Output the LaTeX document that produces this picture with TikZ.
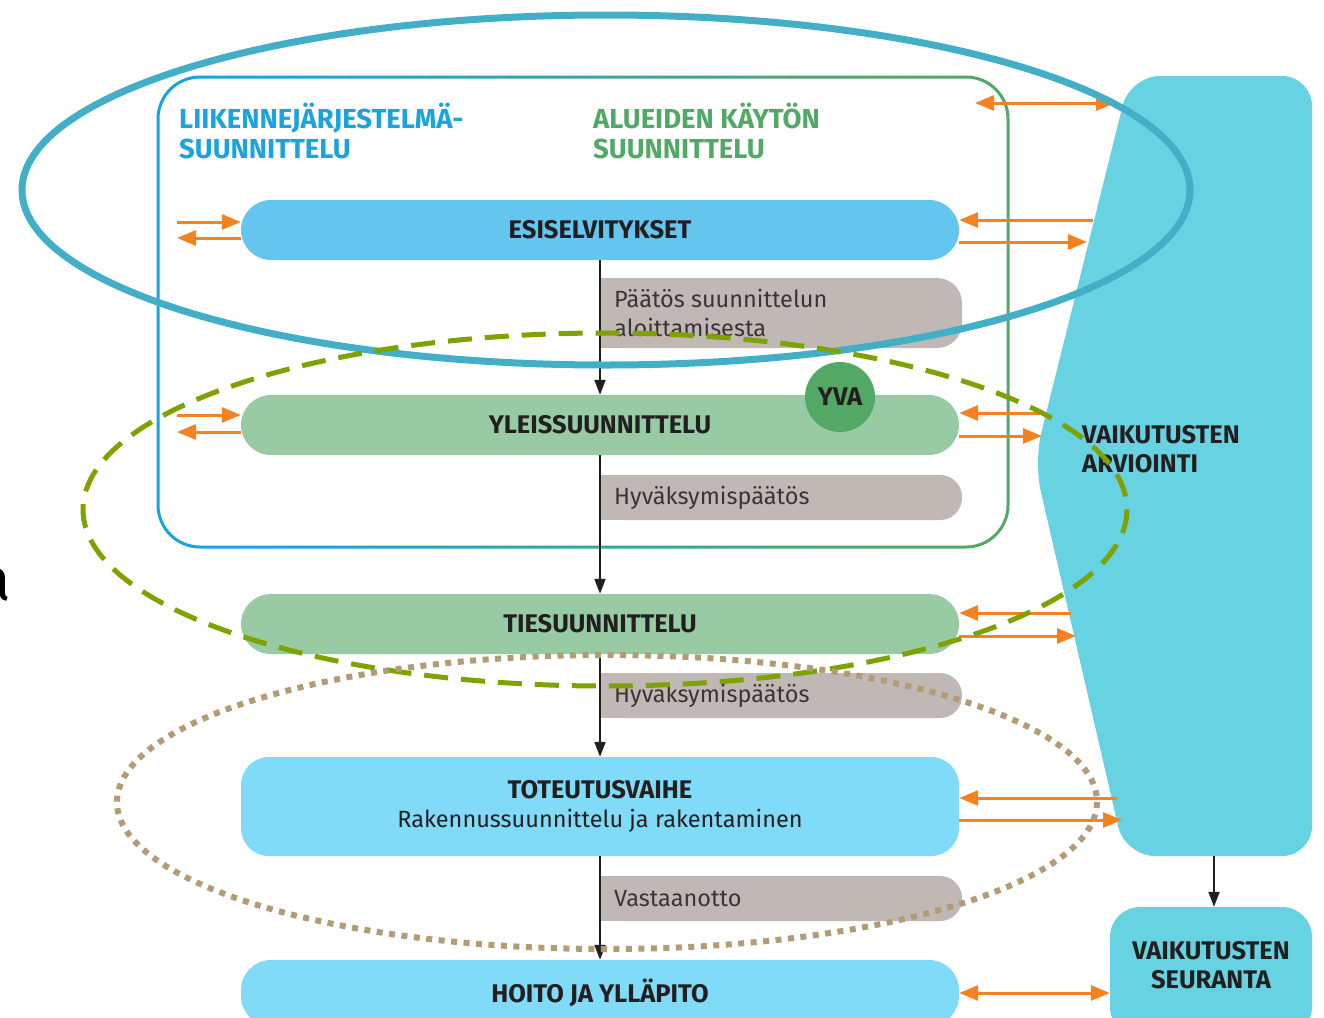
\documentclass[tikz,border=0pt]{standalone}
\usepackage{fontspec}
\setmainfont{Fira Sans}
\usetikzlibrary{arrows.meta,calc}
\definecolor{txt}{HTML}{231F20}
\definecolor{txtgray}{HTML}{3A3534}
\definecolor{esiblue}{HTML}{64C5EE}
\definecolor{lgreen}{HTML}{98CBA4}
\definecolor{yvagreen}{HTML}{53A866}
\definecolor{grayfill}{HTML}{BFB8B5}
\definecolor{cyanfill}{HTML}{80DBF8}
\definecolor{vaikfill}{HTML}{67D2E1}
\definecolor{tealell}{HTML}{42AFC6}
\definecolor{oliveell}{HTML}{7EA200}
\definecolor{brownell}{HTML}{B19C75}
\definecolor{orangearr}{HTML}{F58220}
\definecolor{titleblue}{HTML}{1BA3DD}
\definecolor{titlegreen}{HTML}{52A866}
\begin{document}
\begin{tikzpicture}[x=1pt,y=-1pt,
  mainbox/.style={rounded corners=30pt, minimum width=718pt, minimum height=60pt, inner sep=0pt,
    font=\fontsize{25.5}{29}\selectfont\bfseries, text=txt, align=center},
  graytext/.style={anchor=west, align=left, inner sep=0pt, font=\fontsize{23.5}{29}\selectfont, text=txtgray},
  headtext/.style={anchor=west, align=left, inner sep=0pt, font=\fontsize{27.5}{30}\selectfont\bfseries},
  oarrow/.style={draw=orangearr, line width=3pt, -{Triangle[length=19pt,width=15pt]}},
  oarrowboth/.style={draw=orangearr, line width=3pt, {Triangle[length=19pt,width=15pt]}-{Triangle[length=19pt,width=15pt]}},
  barrow/.style={draw=txt, line width=2pt, -{Triangle[length=15pt,width=11pt]}},
  frag/.style={inner sep=0pt, anchor=base east, text=black}]
\useasboundingbox (0,0) rectangle (1324,1017);

% fragments at the left edge
\node[frag, font=\fontsize{44}{44}\selectfont] (fraga) at (3,466) {a};
\node[frag, font=\fontsize{60}{60}\selectfont] (fragb) at (11,600) {a};

% outer frame with blue-to-green gradient
\foreach \i in {0,...,43} {
  \pgfmathsetmacro\xa{150+\i*20}
  \pgfmathtruncatemacro\p{max(0,min(100,(\xa-260)/6.2))}
  \begin{scope}
    \clip (\xa,60) rectangle (\xa+20.5,565);
    \draw[line width=3pt, draw=titlegreen!\p!titleblue, rounded corners=42pt] (158,77) rectangle (1008,547);
  \end{scope}
}

% headings
\node[headtext, text=titleblue] (ltitle) at (179,131) {LIIKENNEJÄRJESTELMÄ-\\SUUNNITTELU};
\node[headtext, text=titlegreen] (atitle) at (593,131) {ALUEIDEN KÄYTÖN\\SUUNNITTELU};

% gray decision boxes (shapes)
\fill[grayfill, rounded corners=25pt] (600,278) rectangle (962,348);
\fill[grayfill] (600,278) rectangle (640,348);
\fill[grayfill, rounded corners=22pt] (600,475) rectangle (962,520);
\fill[grayfill] (600,475) rectangle (640,520);
\fill[grayfill, rounded corners=22pt] (600,673) rectangle (962,718);
\fill[grayfill] (600,673) rectangle (640,718);
\fill[grayfill, rounded corners=22pt] (600,876) rectangle (962,921);
\fill[grayfill] (600,876) rectangle (640,921);
\node[graytext] (g1) at (614,313) {Päätös suunnittelun\\aloittamisesta};
\node[graytext] (g2) at (614,497.5) {Hyväksymispäätös};
\node[graytext] (g3) at (614,695.5) {Hyväksymispäätös};
\node[graytext] (g4) at (614,898.5) {Vastaanotto};

% main boxes
\node[mainbox, fill=esiblue] (esi) at (600,230) {ESISELVITYKSET};
\node[mainbox, fill=lgreen] (yle) at (600,425) {YLEISSUUNNITTELU};
\node[mainbox, fill=lgreen] (ties) at (600,624) {TIESUUNNITTELU};
\node[mainbox, fill=cyanfill, minimum height=99pt, rounded corners=28pt] (tot) at (600,806.5)
  {TOTEUTUSVAIHE\\{\mdseries\fontsize{23.5}{29}\selectfont Rakennussuunnittelu ja rakentaminen}};
\node[mainbox, fill=cyanfill, minimum height=66pt] (hoito) at (600,993) {HOITO JA YLLÄPITO};

% YVA
\node[circle, fill=yvagreen, minimum size=70pt, inner sep=0pt, font=\fontsize{25.5}{29}\selectfont\bfseries, text=txt] (yva) at (840,397) {YVA};

% impact assessment shape
\fill[vaikfill, rounded corners=30pt] (1130,76) -- (1312,76) -- (1312,856) -- (1125,856) -- (1034,462) -- cycle;
\node[anchor=west, align=left, inner sep=0pt, font=\fontsize{25.5}{29}\selectfont\bfseries, text=txt] (arv) at (1082,449.5) {VAIKUTUSTEN\\ARVIOINTI};
\coordinate (arvbot) at (1214,856);
\node[fill=vaikfill, rounded corners=30pt, minimum width=202pt, minimum height=130pt, inner sep=0pt] (seur) at (1211,972) {};
\node[align=center, inner sep=0pt, font=\fontsize{25.5}{29}\selectfont\bfseries, text=txt] (seurtxt) at (1211,965.5) {VAIKUTUSTEN\\SEURANTA};
\draw[barrow] (arvbot) -- (arvbot |- seur.north);

% black process arrows
\draw[barrow] (esi.south) -- (yle.north);
\draw[barrow] (yle.south) -- (ties.north);
\draw[barrow] (ties.south) -- (tot.north);
\draw[barrow] (tot.south) -- (hoito.north);

% orange arrows
\coordinate (t1) at (975,103);
\coordinate (t2) at (1115,103);
\draw[oarrowboth] (t1) -- (t2);

\coordinate (l1) at (177,222);
\coordinate (l2) at (177,238);
\draw[oarrow] (l1) -- (l1 -| esi.west);
\draw[oarrow] (l2 -| esi.west) -- (l2);
\coordinate (l3) at (177,415);
\coordinate (l4) at (177,432);
\draw[oarrow] (l3) -- (l3 -| yle.west);
\draw[oarrow] (l4 -| yle.west) -- (l4);

\coordinate (r1) at (1093,220);
\coordinate (r2) at (1087,242);
\draw[oarrow] (r1) -- (r1 -| esi.east);
\draw[oarrow] (r2 -| esi.east) -- (r2);
\coordinate (r3) at (1043,413);
\coordinate (r4) at (1042,436);
\draw[oarrow] (r3) -- (r3 -| yle.east);
\draw[oarrow] (r4 -| yle.east) -- (r4);
\coordinate (r5) at (1071,613);
\coordinate (r6) at (1076,636);
\draw[oarrow] (r5) -- (r5 -| ties.east);
\draw[oarrow] (r6 -| ties.east) -- (r6);
\coordinate (r7) at (1117,798);
\coordinate (r8) at (1122,820);
\draw[oarrow] (r7) -- (r7 -| tot.east);
\draw[oarrow] (r8 -| tot.east) -- (r8);
\draw[oarrowboth] (hoito.east |- 0,993) -- (seur.west |- 0,993);

% ellipses
\draw[tealell, line width=7pt] (606,190) ellipse [x radius=584, y radius=175];
\draw[oliveell, line width=5pt, dash pattern=on 24pt off 13pt] (605,509.5) ellipse [x radius=522, y radius=176.5];
\draw[brownell, line width=6pt, dash pattern=on 6pt off 6.5pt] (607,802) ellipse [x radius=490, y radius=147];
\end{tikzpicture}
\end{document}
